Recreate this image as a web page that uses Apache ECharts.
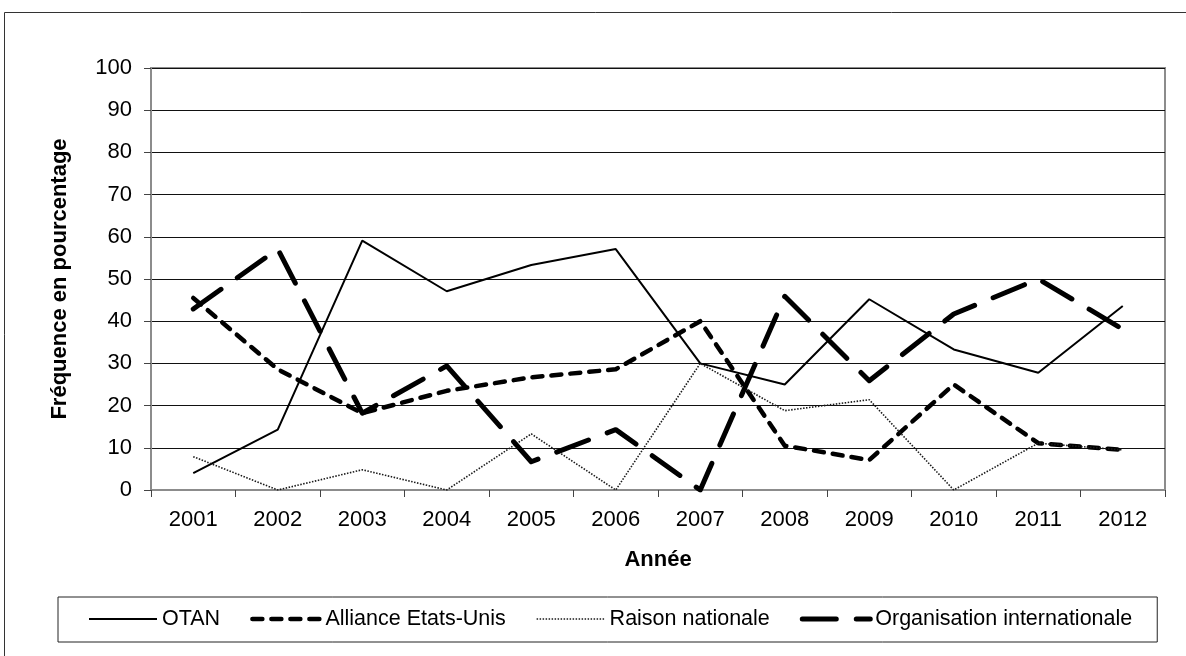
<!DOCTYPE html>
<html>
<head>
<meta charset="utf-8">
<script src="https://cdn.jsdelivr.net/npm/echarts@6/dist/echarts.min.js"></script>
<style>
  html, body { margin: 0; padding: 0; background: #fff; }
  #chart { width: 1186px; height: 656px; }
</style>
</head>
<body>
<div id="chart"></div>
<script>
// Years on the horizontal axis
const years = ['2001', '2002', '2003', '2004', '2005', '2006', '2007', '2008', '2009', '2010', '2011', '2012'];

// Frequency (%) of each justification per year
const otan = [4.0, 14.3, 59.1, 47.1, 53.3, 57.1, 30.0, 25.0, 45.2, 33.3, 27.8, 43.6];
const allianceEU = [45.5, 28.6, 18.2, 23.5, 26.7, 28.6, 40.0, 10.5, 7.1, 25.0, 11.1, 9.5];
const raisonNationale = [7.9, 0, 4.8, 0, 13.3, 0, 30.0, 18.8, 21.4, 0, 11.1, 9.5];
const orgInternationale = [42.9, 57.1, 18.2, 29.4, 6.7, 14.3, 0, 45.9, 25.9, 41.7, 50.0, 38.1];

const seriesNames = ['OTAN', 'Alliance Etats-Unis', 'Raison nationale', 'Organisation internationale'];

const FONT = "'Liberation Sans', Arial, sans-serif";

// Stroke styles shared by each line and its legend key
const lineStyles = [
  { color: '#000', width: 2, type: 'solid' },
  { color: '#000', width: 4.5, type: [10, 9], cap: 'round', join: 'round' },
  { color: '#1a1a1a', width: 1.6, type: [1.5, 1.5] },
  { color: '#000', width: 5, type: [34, 20], cap: 'round', join: 'round' }
];
const seriesData = [otan, allianceEU, raisonNationale, orgInternationale];

const chart = echarts.init(document.getElementById('chart'), null, { renderer: 'canvas' });

chart.setOption({
  animation: false,
  backgroundColor: '#ffffff',
  textStyle: { fontFamily: FONT, color: '#000' },
  graphic: [{
    type: 'rect',
    shape: { x: 4.5, y: 12.5, width: 1200, height: 700 },
    style: { fill: 'none', stroke: '#333', lineWidth: 1 },
    silent: true,
    z: -10
  }],
  grid: {
    left: 151, right: 21, top: 68, bottom: 166,
    show: true,
    borderColor: '#8c8c8c',
    borderWidth: 2,
    containLabel: false
  },
  legend: {
    data: seriesNames.map((name, i) => ({ name, lineStyle: Object.assign({}, lineStyles[i]) })),
    left: 58,
    top: 597,
    orient: 'horizontal',
    padding: [11, 25, 12, 30],
    itemGap: 30,
    itemWidth: 68,
    itemHeight: 14,
    borderColor: '#222',
    borderWidth: 1,
    lineStyle: { width: 'inherit' },
    // line-only keys: hide the marker the line icon would otherwise carry
    itemStyle: { color: 'rgba(0,0,0,0)', borderColor: 'rgba(0,0,0,0)', borderWidth: 0, opacity: 0 },
    textStyle: { fontFamily: FONT, fontSize: 21.5, color: '#000' }
  },
  xAxis: {
    type: 'category',
    data: years,
    boundaryGap: true,
    name: 'Année',
    nameLocation: 'middle',
    nameGap: 59,
    nameTextStyle: { fontFamily: FONT, fontSize: 22, fontWeight: 'bold', color: '#000' },
    axisLine: { show: true, lineStyle: { color: '#8c8c8c', width: 2 } },
    axisTick: { show: true, inside: false, length: 7, alignWithLabel: false, lineStyle: { color: '#444', width: 1 } },
    axisLabel: { fontFamily: FONT, fontSize: 22, color: '#000', margin: 19 },
    splitLine: { show: false }
  },
  yAxis: {
    type: 'value',
    min: 0,
    max: 100,
    interval: 10,
    name: 'Fréquence en pourcentage',
    nameLocation: 'middle',
    nameGap: 80,
    nameRotate: 90,
    nameTextStyle: { fontFamily: FONT, fontSize: 22, fontWeight: 'bold', color: '#000' },
    axisLine: { show: true, lineStyle: { color: '#8c8c8c', width: 2 } },
    axisTick: { show: true, inside: false, length: 7, lineStyle: { color: '#444', width: 1 } },
    axisLabel: { fontFamily: FONT, fontSize: 22, color: '#000', margin: 19 },
    splitLine: { show: true, lineStyle: { color: '#111', width: 1 } }
  },
  series: seriesNames.map((name, i) => ({
    name,
    type: 'line',
    data: seriesData[i],
    symbol: 'none',
    lineStyle: Object.assign({}, lineStyles[i]),
    itemStyle: { color: lineStyles[i].color },
    z: 3 + i
  }))
});
</script>
</body>
</html>
